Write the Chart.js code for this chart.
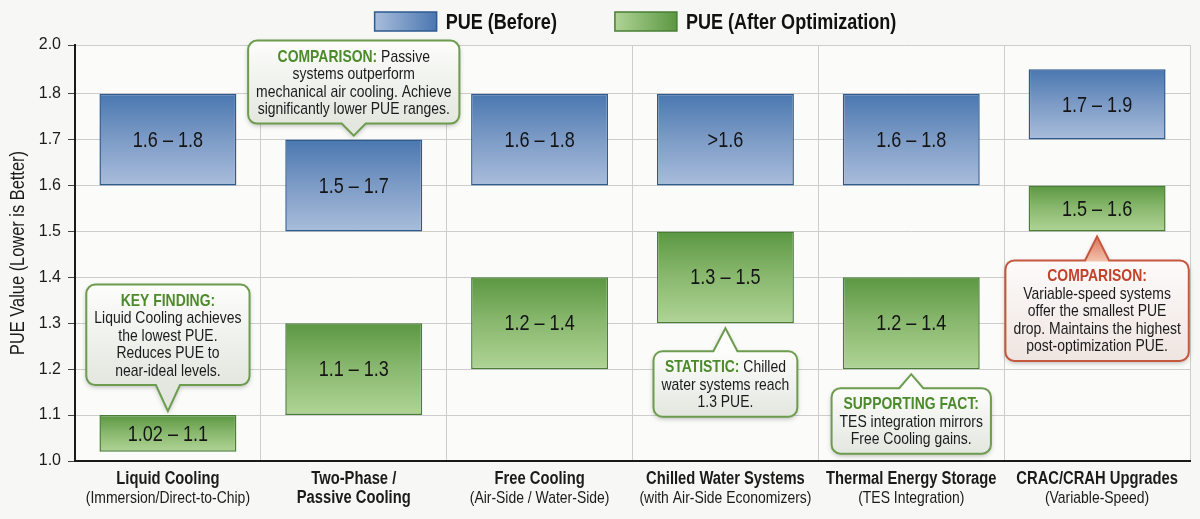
<!DOCTYPE html>
<html>
<head>
<meta charset="utf-8">
<title>PUE before / after optimization</title>
<script src="https://cdn.jsdelivr.net/npm/chart.js@4.4.1/dist/chart.umd.min.js"></script>
<style>
  html, body { margin: 0; padding: 0; background: #f7f7f5; }
  #wrap { width: 1200px; height: 519px; }
</style>
</head>
<body>
<div id="wrap"><canvas id="pueChart"></canvas></div>
<script>
// ---- data ----
const categories = ['Liquid Cooling', 'Two-Phase /', 'Free Cooling', 'Chilled Water Systems', 'Thermal Energy Storage', 'CRAC/CRAH Upgrades'];
const subLabels = ['(Immersion/Direct-to-Chip)', 'Passive Cooling', '(Air-Side / Water-Side)', '(with Air-Side Economizers)', '(TES Integration)', '(Variable-Speed)'];

const pueBefore = [[1.6, 1.8], [1.5, 1.7], [1.6, 1.8], [1.6, 1.8], [1.6, 1.8], [1.7, 1.9]];
const pueAfter = [[1.02, 1.1], [1.1, 1.3], [1.2, 1.4], [1.3, 1.5], [1.2, 1.4], [1.5, 1.6]];

const beforeText = ['1.6 – 1.8', '1.5 – 1.7', '1.6 – 1.8', '>1.6', '1.6 – 1.8', '1.7 – 1.9'];
const afterText = ['1.02 – 1.1', '1.1 – 1.3', '1.2 – 1.4', '1.3 – 1.5', '1.2 – 1.4', '1.5 – 1.6'];

const yTicks = [1.0, 1.1, 1.2, 1.3, 1.4, 1.5, 1.6, 1.7, 1.8, 2.0];

// callouts: which category, which value the pointer touches, box above or below
const notes = [
  { cat: 0, value: 1.1, side: 'above', tone: 'green', rows: [['KEY FINDING:', ''], 'Liquid Cooling achieves', 'the lowest PUE.', 'Reduces PUE to', 'near-ideal levels.'] },
  { cat: 1, value: 1.7, side: 'above', tone: 'green', rows: [['COMPARISON:', ' Passive'], 'systems outperform', 'mechanical air cooling. Achieve', 'significantly lower PUE ranges.'] },
  { cat: 3, value: 1.3, side: 'below', tone: 'green', rows: [['STATISTIC:', ' Chilled'], 'water systems reach', '1.3 PUE.'] },
  { cat: 4, value: 1.2, side: 'below', tone: 'green', rows: [['SUPPORTING FACT:', ''], 'TES integration mirrors', 'Free Cooling gains.'] },
  { cat: 5, value: 1.5, side: 'below', tone: 'red', rows: [['COMPARISON:', ''], 'Variable-speed systems', 'offer the smallest PUE', 'drop. Maintains the highest', 'post-optimization PUE.'] }
];
const pointerLen = [26, 12, 23, 14, 24];

// ---- styling ----
const FONT = '"Liberation Sans", Arial, "DejaVu Sans", sans-serif';
const SQ = 0.82; // horizontal squeeze -> narrow face like the original
const INK = '#1b1b1b';
const BLUE = { top: '#4a77b0', mid: '#7898c4', bottom: '#a9bddb', edge: '#2e5a8e' };
const GREEN = { top: '#5b9742', mid: '#86b66b', bottom: '#b0d496', edge: '#4a7d35' };
const TONES = {
  green: { edge: '#6d9c4e', title: '#4c8a2c', fillTop: '#fdfdfb', fillBottom: '#e3e7df' },
  red: { edge: '#c4573d', title: '#c2432a', fillTop: '#fdfbfa', fillBottom: '#efe5e1' }
};

Chart.defaults.font.family = FONT;
Chart.defaults.color = INK;

function narrowWidth(ctx, text) { return ctx.measureText(text).width * SQ; }
function narrowText(ctx, text, x, y, align) {
  ctx.save();
  ctx.translate(x, y);
  ctx.scale(SQ, 1);
  ctx.textAlign = align;
  ctx.fillText(text, 0, 0);
  ctx.restore();
}

// y axis: linear up to 1.8, the 1.8–2.0 band is squeezed as in the original
const TOP_BAND = 1.8, SQUEEZE = 0.53;
class PueScale extends Chart.LinearScale {
  static id = 'pue';
  static defaults = Chart.LinearScale.defaults;
  warp(v) { return v > TOP_BAND ? TOP_BAND + (v - TOP_BAND) * SQUEEZE : v; }
  unwarp(u) { return u > TOP_BAND ? TOP_BAND + (u - TOP_BAND) / SQUEEZE : u; }
  buildTicks() {
    this.start = this.min; this.end = this.max;
    return yTicks.map(v => ({ value: v }));
  }
  getPixelForValue(v) {
    if (v === null || v === undefined || isNaN(v)) return NaN;
    const lo = this.warp(this.min), hi = this.warp(this.max);
    return this.getPixelForDecimal((this.warp(v) - lo) / (hi - lo));
  }
  getValueForPixel(p) {
    const lo = this.warp(this.min), hi = this.warp(this.max);
    return this.unwarp(lo + this.getDecimalForPixel(p) * (hi - lo));
  }
}
Chart.register(PueScale);

function barFill(c) {
  return function (ctx) {
    const chart = ctx.chart;
    if (!chart.chartArea || ctx.type !== 'data' || !ctx.raw) return c.mid;
    const y = chart.scales.y;
    const g = chart.ctx.createLinearGradient(0, y.getPixelForValue(ctx.raw[1]), 0, y.getPixelForValue(ctx.raw[0]));
    g.addColorStop(0, c.top);
    g.addColorStop(0.45, c.mid);
    g.addColorStop(1, c.bottom);
    return g;
  };
}

const backdrop = {
  id: 'backdrop',
  beforeDraw(chart) {
    const { ctx, chartArea: a } = chart;
    ctx.save();
    ctx.fillStyle = '#f7f7f5';
    ctx.fillRect(0, 0, chart.width, chart.height);
    ctx.fillStyle = '#fbfbfa';
    ctx.fillRect(a.left, a.top, a.right - a.left, a.bottom - a.top);
    ctx.restore();
  }
};

const rangeLabels = {
  id: 'rangeLabels',
  afterDatasetsDraw(chart) {
    const ctx = chart.ctx;
    const texts = [beforeText, afterText];
    ctx.save();
    ctx.font = '22px ' + FONT;
    ctx.fillStyle = '#141414';
    ctx.textBaseline = 'middle';
    chart.data.datasets.forEach((ds, di) => {
      chart.getDatasetMeta(di).data.forEach((bar, i) => {
        const p = bar.getProps(['x', 'y', 'base'], true);
        narrowText(ctx, texts[di][i], p.x, (p.y + p.base) / 2 + 1, 'center');
      });
    });
    ctx.restore();
  }
};

function calloutPath(ctx, x0, y0, w, h, r, tipX, tipY, edge, half) {
  const x1 = x0 + w, y1 = y0 + h;
  ctx.beginPath();
  ctx.moveTo(x0 + r, y0);
  if (edge === 'top') { ctx.lineTo(tipX - half, y0); ctx.lineTo(tipX, tipY); ctx.lineTo(tipX + half, y0); }
  ctx.lineTo(x1 - r, y0);
  ctx.arcTo(x1, y0, x1, y0 + r, r);
  ctx.lineTo(x1, y1 - r);
  ctx.arcTo(x1, y1, x1 - r, y1, r);
  if (edge === 'bottom') { ctx.lineTo(tipX + half, y1); ctx.lineTo(tipX, tipY); ctx.lineTo(tipX - half, y1); }
  ctx.lineTo(x0 + r, y1);
  ctx.arcTo(x0, y1, x0, y1 - r, r);
  ctx.lineTo(x0, y0 + r);
  ctx.arcTo(x0, y0, x0 + r, y0, r);
  ctx.closePath();
}

const callouts = {
  id: 'callouts',
  afterDatasetsDraw(chart) {
    const ctx = chart.ctx;
    const xs = chart.scales.x, ys = chart.scales.y;
    const LINE = 17.5, PAD_Y = 6.5, PAD_X = 8;
    const bold = 'bold 17px ' + FONT, regular = '17px ' + FONT;
    notes.forEach((n, k) => {
      const tone = TONES[n.tone];
      ctx.save();
      const widths = n.rows.map(row => {
        if (Array.isArray(row)) {
          ctx.font = bold; const a = narrowWidth(ctx, row[0]);
          ctx.font = regular; return a + narrowWidth(ctx, row[1]);
        }
        ctx.font = regular; return narrowWidth(ctx, row);
      });
      const w = Math.max(...widths) + PAD_X * 2;
      const h = n.rows.length * LINE + PAD_Y * 2;
      const cx = xs.getPixelForValue(n.cat);
      const edgeY = ys.getPixelForValue(n.value);
      const above = n.side === 'above';
      const tipY = above ? edgeY - 4 : edgeY + 5;
      const y0 = above ? tipY - pointerLen[k] - h : tipY + pointerLen[k];
      const x0 = cx - w / 2;
      const half = 12;

      const fill = ctx.createLinearGradient(0, y0, 0, y0 + h);
      fill.addColorStop(0, tone.fillTop);
      fill.addColorStop(1, tone.fillBottom);

      calloutPath(ctx, x0, y0, w, h, 9, cx, tipY, above ? 'bottom' : 'top', half);
      ctx.shadowColor = 'rgba(0,0,0,0.28)';
      ctx.shadowBlur = 5;
      ctx.shadowOffsetY = 2;
      ctx.fillStyle = fill;
      ctx.fill();
      ctx.shadowColor = 'transparent';

      if (n.tone === 'red') {
        const baseY = above ? y0 + h : y0;
        const pg = ctx.createLinearGradient(0, tipY, 0, baseY);
        pg.addColorStop(0, '#dc7356');
        pg.addColorStop(1, '#f2c0aa');
        ctx.beginPath();
        ctx.moveTo(cx - half, baseY + (above ? -1 : 1));
        ctx.lineTo(cx, tipY);
        ctx.lineTo(cx + half, baseY + (above ? -1 : 1));
        ctx.closePath();
        ctx.fillStyle = pg;
        ctx.fill();
        calloutPath(ctx, x0, y0, w, h, 9, cx, tipY, above ? 'bottom' : 'top', half);
      }
      ctx.lineWidth = 2;
      ctx.strokeStyle = tone.edge;
      ctx.stroke();

      ctx.textBaseline = 'middle';
      n.rows.forEach((row, i) => {
        const ty = y0 + PAD_Y + LINE * (i + 0.5) + 1;
        if (Array.isArray(row)) {
          ctx.font = bold; const a = narrowWidth(ctx, row[0]);
          ctx.font = regular; const b = narrowWidth(ctx, row[1]);
          const tx = cx - (a + b) / 2;
          ctx.font = bold; ctx.fillStyle = tone.title; narrowText(ctx, row[0], tx, ty, 'left');
          ctx.font = regular; ctx.fillStyle = INK; narrowText(ctx, row[1], tx + a, ty, 'left');
        } else {
          ctx.font = regular; ctx.fillStyle = INK;
          narrowText(ctx, row, cx, ty, 'center');
        }
      });
      ctx.restore();
    });
  }
};

const axisText = {
  id: 'axisText',
  afterDraw(chart) {
    const ctx = chart.ctx, xs = chart.scales.x, a = chart.chartArea;
    ctx.save();
    ctx.fillStyle = INK;
    ctx.textBaseline = 'middle';
    categories.forEach((name, i) => {
      const x = xs.getPixelForValue(i);
      ctx.font = 'bold 18px ' + FONT;
      narrowText(ctx, name, x, 479, 'center');
      // sub-lines in brackets are regular weight, a continued name stays bold
      const plain = subLabels[i].startsWith('(');
      ctx.font = plain ? '17px ' + FONT : 'bold 18px ' + FONT;
      narrowText(ctx, subLabels[i], x, 498, 'center');
    });
    // y axis title
    ctx.save();
    ctx.translate(18, (a.top + a.bottom) / 2);
    ctx.rotate(-Math.PI / 2);
    ctx.font = '20px ' + FONT;
    narrowText(ctx, 'PUE Value (Lower is Better)', 0, 0, 'center');
    ctx.restore();
    ctx.restore();
  }
};

const legendBoxes = {
  id: 'legendBoxes',
  afterDraw(chart) {
    const { ctx, chartArea: a } = chart;
    const swatches = [BLUE, GREEN];
    const boxW = 62, boxH = 19, gapText = 9, gapItem = 58, boxY = 12;
    ctx.save();
    ctx.font = 'bold 22px ' + FONT;
    const items = chart.data.datasets.map((ds, i) => ({ text: ds.label, w: narrowWidth(ctx, ds.label), c: swatches[i] }));
    const total = items.reduce((s, it) => s + boxW + gapText + it.w, 0) + gapItem * (items.length - 1);
    let x = (a.left + a.right) / 2 - total / 2 + 3;
    items.forEach(it => {
      const g = ctx.createLinearGradient(x, 0, x + boxW, 0);
      g.addColorStop(0, it.c.bottom);
      g.addColorStop(1, it.c.top);
      ctx.fillStyle = g;
      ctx.fillRect(x, boxY, boxW, boxH);
      ctx.lineWidth = 1.5;
      ctx.strokeStyle = it.c.edge;
      ctx.strokeRect(x, boxY, boxW, boxH);
      ctx.fillStyle = '#111';
      ctx.textBaseline = 'middle';
      narrowText(ctx, it.text, x + boxW + gapText, boxY + boxH / 2 + 1, 'left');
      x += boxW + gapText + it.w + gapItem;
    });
    ctx.restore();
  }
};

new Chart(document.getElementById('pueChart'), {
  type: 'bar',
  data: {
    labels: categories,
    datasets: [
      {
        label: 'PUE (Before)',
        data: pueBefore,
        backgroundColor: barFill(BLUE),
        borderColor: BLUE.edge,
        borderWidth: 1.5,
        borderSkipped: false,
        grouped: false,
        order: 2
      },
      {
        label: 'PUE (After Optimization)',
        data: pueAfter,
        backgroundColor: barFill(GREEN),
        borderColor: GREEN.edge,
        borderWidth: 1.5,
        borderSkipped: false,
        grouped: false,
        order: 1
      }
    ]
  },
  options: {
    responsive: true,
    maintainAspectRatio: false,
    animation: false,
    layout: { padding: { top: 45, right: 10, left: 0, bottom: 0 } },
    datasets: { bar: { categoryPercentage: 1, barPercentage: 0.737 } },
    plugins: {
      legend: { display: false },
      tooltip: { enabled: false }
    },
    scales: {
      x: {
        type: 'category',
        grid: { color: '#cdcdcd', lineWidth: 1, drawTicks: false, offset: true },
        border: { color: '#1a1a1a', width: 2 },
        ticks: { display: false },
        afterFit(scale) { scale.height = 58; }
      },
      y: {
        type: 'pue',
        min: 1.0,
        max: 2.0,
        grid: { color: '#cdcdcd', lineWidth: 1, tickLength: 7, tickColor: '#444' },
        border: { color: '#1a1a1a', width: 2 },
        ticks: {
          font: { size: 16 },
          color: INK,
          padding: 7,
          callback: v => Number(v).toFixed(1)
        },
        title: { display: false, text: 'PUE Value (Lower is Better)' },
        afterFit(scale) { scale.width = 75; }
      }
    }
  },
  plugins: [backdrop, rangeLabels, callouts, axisText, legendBoxes]
});
</script>
</body>
</html>
